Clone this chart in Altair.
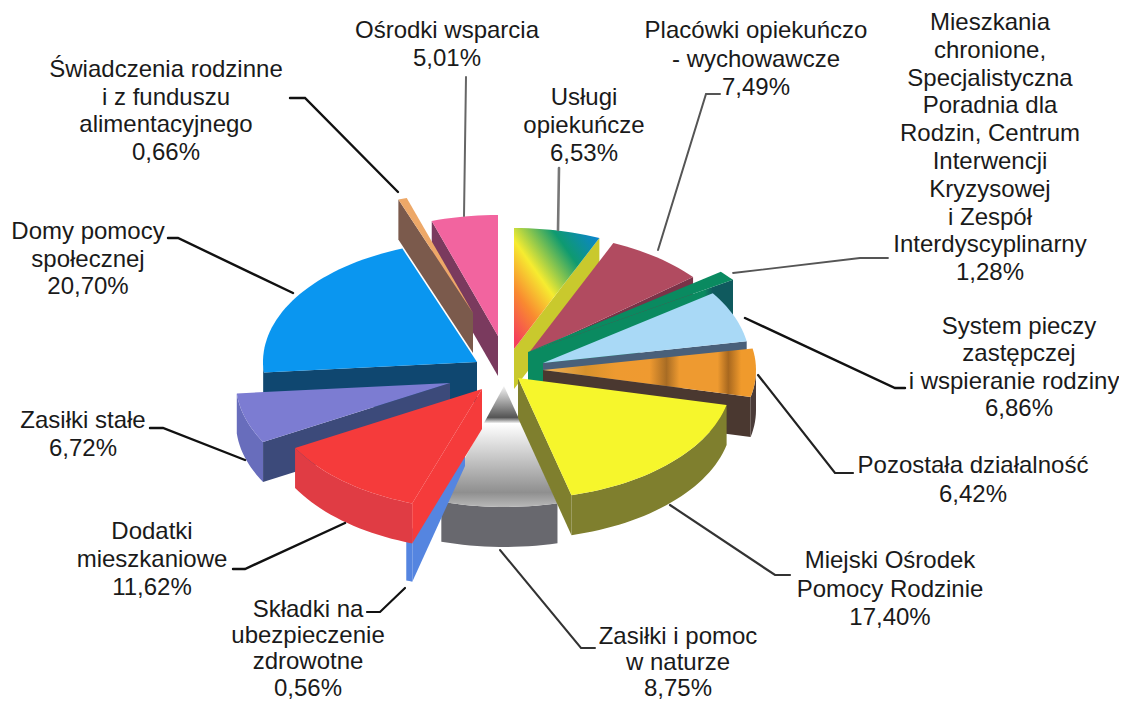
import math
import altair as alt

# ---- values ----
shares = [6.53, 7.49, 1.28, 6.86, 6.42, 17.40, 8.75, 0.56, 11.62, 6.72, 20.70, 0.66, 5.01]
labels = [
    ["Usługi", "opiekuńcze", "6,53%"],
    ["Placówki opiekuńczo", "- wychowawcze", "7,49%"],
    ["Mieszkania", "chronione,", "Specjalistyczna", "Poradnia dla", "Rodzin, Centrum", "Interwencji",
     "Kryzysowej", "i Zespół", "Interdyscyplinarny", "1,28%"],
    ["System pieczy", "zastępczej", "i wspieranie rodziny", "6,86%"],
    ["Pozostała działalność", "6,42%"],
    ["Miejski Ośrodek", "Pomocy Rodzinie", "17,40%"],
    ["Zasiłki i pomoc", "w naturze", "8,75%"],
    ["Składki na", "ubezpieczenie", "zdrowotne", "0,56%"],
    ["Dodatki", "mieszkaniowe", "11,62%"],
    ["Zasiłki stałe", "6,72%"],
    ["Domy pomocy", "społecznej", "20,70%"],
    ["Świadczenia rodzinne", "i z funduszu", "alimentacyjnego", "0,66%"],
    ["Ośrodki wsparcia", "5,01%"],
]

# ---- layout of the exploded 3-D pie (reference pixels) ----
OX, OY = -8, -8
DEPTH = 40
apex_x = [514, 528, 528, 543, 543, 518, 504, 465, 482, 450, 477, 473, 498]
apex_y = [349, 354, 352, 363, 370, 378, 386, 426, 389, 383, 362, 313, 336]
rad_x = [214, 214, 250, 207, 213, 214, 214, 180, 214, 214, 214, 214, 214]
rad_y = [121, 121, 126, 122, 121, 121, 121, 121, 121, 121, 121, 121, 121]
draw_order = [12, 11, 10, 9, 6, 7, 8, 0, 1, 2, 3, 4, 5]

label_x = [584, 756, 990, 1019, 973, 890, 678, 308, 152, 83, 88, 166, 447]
label_y = [98, 31, 23, 327, 466, 561, 637, 610, 532, 421, 232, 70, 31]
label_step = [27.8, 28.5, 27.8, 27.3, 28.5, 28.5, 25.8, 26.2, 28, 27.5, 27.5, 27.7, 28]
line_shift = {"i wspieranie rodziny": -5}


def grad(x1, y1, x2, y2, stops):
    return alt.Gradient(gradient="linear", x1=x1, y1=y1, x2=x2, y2=y2,
                        stops=[alt.GradientStop(offset=o, color=c) for o, c in stops])


top_fill = [
    grad(0, 1, 1, 0, [(0.05, "#f5405a"), (0.25, "#f98a30"), (0.45, "#f6ec30"), (0.72, "#0f9a70"), (1, "#0a80e0")]),
    "#b14b60", "#0a8a60", "#a9d9f6",
    grad(0, 0, 1, 0, [(0, "#f3b45c"), (0.2, "#d8912c"), (0.34, "#ee9a30"), (0.5, "#ef9a30"), (0.58, "#a86c24"),
                      (0.64, "#ee9a30"), (0.82, "#ee9a30"), (0.87, "#a8681f"), (0.93, "#f09a2c"), (1, "#f09a2c")]),
    "#f6f62c",
    grad(0, 0, 0, 1, [(0, "#f4f4f4"), (0.25, "#5a5a5a"), (0.26, "#555555"), (0.31, "#ffffff"),
                      (0.88, "#8f8f8f"), (1, "#b8b8b8")]),
    "#5585e0", "#f53b3b", "#7c7cd2", "#0a96f0", "#eda868", "#f2649f",
]
side_fill = ["#c9c92d", "#7a3348", "#0f5a5e", "#49607a", "#4a3b38", "#7f7f2e", "#68686e",
             "#5585e0", "#e03c44", "#686dbc", "#0f4770", "#7b5a4c", "#7a3a5e"]
cut_fill = ["#c9c92d", "#7a3348",
            grad(0, 0, 1, 0, [(0, "#0a8a60"), (0.86, "#0a8a60"), (0.9, "#0f5a5e"), (1, "#0f5a5e")]),
            "#49607a", "#4a3830", "#7f7f2e", "#68686e",
            "#5585e0", "#f53b3b", "#3c4a7a", "#0f4770", "#7b5a4c", "#7a3a5e"]

leaders = [
    ([(466, 77), (464, 216)], "#666666", 2.0),
    ([(720, 94), (706, 94), (658, 250)], "#555555", 2.0),
    ([(559, 168), (558, 230)], "#777777", 2.6),
    ([(888, 258), (860, 258), (733, 273)], "#555555", 1.8),
    ([(290, 98), (305, 98), (398, 192)], "#111111", 2.4),
    ([(168, 238), (178, 238), (293, 293)], "#111111", 2.4),
    ([(150, 428), (163, 428), (245, 460)], "#111111", 2.4),
    ([(233, 569), (245, 569), (345, 523)], "#111111", 2.4),
    ([(367, 612), (380, 612), (405, 588)], "#111111", 2.2),
    ([(790, 575), (775, 575), (670, 505)], "#333333", 2.2),
    ([(595, 648), (581, 648), (500, 550)], "#333333", 2.0),
    ([(853, 473), (835, 473), (758, 375)], "#222222", 2.2),
    ([(905, 388), (895, 388), (745, 318)], "#111111", 2.4),
]

# ---- build the polygons from the shares ----
total = sum(shares)
edges = [0.0]
for s in shares:
    edges.append(edges[-1] + s / total * 360.0)


def pt(i, deg, drop=0):
    t = math.radians(deg)
    return [apex_x[i] + OX + rad_x[i] * math.sin(t), apex_y[i] + OY - rad_y[i] * math.cos(t) + drop]


def arc(i, a, b, drop=0):
    n = max(2, int(abs(b - a) / 2) + 2)
    return [pt(i, a + (b - a) * k / (n - 1), drop) for k in range(n)]


def shape(points, fill):
    ring = points + [points[0]]
    feature = {"type": "Feature", "properties": {}, "geometry": {"type": "Polygon", "coordinates": [ring]}}
    return (alt.Chart(alt.Data(values=[feature]))
            .mark_geoshape(fill=fill, stroke=None, strokeWidth=0)
            .project(type="identity", scale=1, translate=[0, 0]))


layers = []
for i in draw_order:
    a, b = edges[i], edges[i + 1]
    centre = [apex_x[i] + OX, apex_y[i] + OY]
    lo, hi = max(a, 90.0), min(b, 270.0)
    if lo < hi:
        layers.append(shape(arc(i, lo, hi) + arc(i, hi, lo, DEPTH), side_fill[i]))
    if 180 < a < 360:
        p, q = pt(i, a), pt(i, a, DEPTH)
        layers.append(shape([centre, p, q, [centre[0], centre[1] + DEPTH]], cut_fill[i]))
    if 0 < b < 180:
        p, q = pt(i, b), pt(i, b, DEPTH)
        layers.append(shape([centre, p, q, [centre[0], centre[1] + DEPTH]], cut_fill[i]))
    layers.append(shape([centre] + arc(i, a, b), top_fill[i]))

line_rows = []
for k, (pts, col, w) in enumerate(leaders):
    for j, (x, y) in enumerate(pts):
        line_rows.append({"id": k, "o": j, "x": x + OX, "y": y + OY, "c": col, "w": w})

lines = alt.Chart(alt.Data(values=line_rows)).mark_line(strokeCap="round").encode(
    x=alt.X("x:Q", scale=None, axis=None),
    y=alt.Y("y:Q", scale=None, axis=None),
    detail="id:N",
    order="o:Q",
    color=alt.Color("c:N", scale=None, legend=None),
    strokeWidth=alt.StrokeWidth("w:Q", scale=None, legend=None),
)

text_rows = []
for i, ls in enumerate(labels):
    for j, s in enumerate(ls):
        text_rows.append({"t": s, "x": label_x[i] + OX + line_shift.get(s, 0),
                          "y": label_y[i] + j * label_step[i] + OY})

texts = alt.Chart(alt.Data(values=text_rows)).mark_text(
    font="Liberation Sans", fontSize=24, color="#1a1a1a", align="center", baseline="middle"
).encode(
    x=alt.X("x:Q", scale=None, axis=None),
    y=alt.Y("y:Q", scale=None, axis=None),
    text="t:N",
)

chart = alt.layer(*layers, lines, texts).properties(
    width=1111, height=692, padding=0, autosize="none", background="white"
).configure_view(stroke=None)

chart.save("out.html", embed_options={"renderer": "svg", "actions": False})
